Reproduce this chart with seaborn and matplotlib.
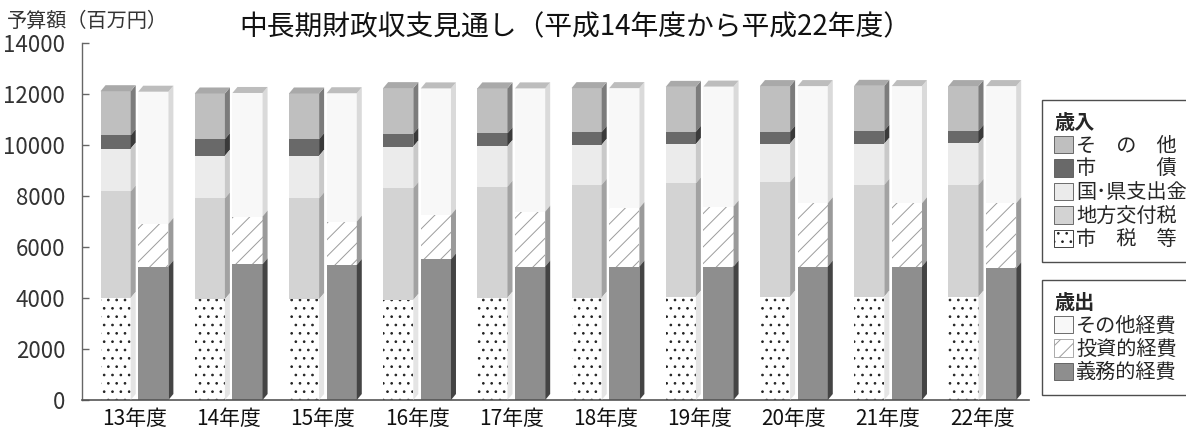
import numpy as np
import pandas as pd
import matplotlib
matplotlib.use("Agg")
import matplotlib.pyplot as plt
import seaborn as sns
from matplotlib.patches import Polygon, Patch

# ---------------- data (百万円) ----------------
years = ['13年度', '14年度', '15年度', '16年度', '17年度',
         '18年度', '19年度', '20年度', '21年度', '22年度']

# 歳入 (bottom -> top)
rev_shizei   = [4000, 3950, 3950, 3920, 4010, 4010, 4050, 4050, 4050, 4050]   # 市税等
rev_kofuzei  = [4170, 3950, 3950, 4380, 4350, 4420, 4440, 4500, 4380, 4380]   # 地方交付税
rev_shishutsu = [1680, 1670, 1670, 1630, 1590, 1570, 1540, 1500, 1610, 1630]  # 国・県支出金
rev_shisai   = [520, 650, 650, 500, 500, 500, 480, 460, 510, 480]             # 市債
rev_sonota   = [1730, 1790, 1790, 1790, 1760, 1720, 1760, 1790, 1760, 1760]   # その他

# 歳出 (bottom -> top)
exp_gimu   = [5230, 5320, 5290, 5510, 5230, 5230, 5230, 5230, 5230, 5160]     # 義務的経費
exp_toshi  = [1670, 1870, 1700, 1740, 2150, 2290, 2350, 2480, 2480, 2550]     # 投資的経費
exp_sonota = [5180, 4840, 5030, 4960, 4830, 4700, 4700, 4590, 4590, 4590]     # その他経費

yticks = [0, 2000, 4000, 6000, 8000, 10000, 12000, 14000]

# ---------------- styles ----------------
rev_layers = [  # label, values, face, side, hatch, hatchcolor
    ('市　税　等', rev_shizei, '#ffffff', '#e4e4e4', '..', '#222222'),
    ('地方交付税', rev_kofuzei, '#d3d3d3', '#a2a2a2', None, None),
    ('国･県支出金', rev_shishutsu, '#ebebeb', '#c9c9c9', None, None),
    ('市　　　債', rev_shisai, '#696969', '#3a3a3a', None, None),
    ('そ　の　他', rev_sonota, '#bfbfbf', '#7c7c7c', None, None),
]
exp_layers = [
    ('義務的経費', exp_gimu, '#8e8e8e', '#444444', None, None),
    ('投資的経費', exp_toshi, '#ffffff', '#9a9a9a', '//', '#9c9c9c'),
    ('その他経費', exp_sonota, '#f8f8f8', '#dadada', None, None),
]

sns.set_theme(style="white")
plt.rcParams['font.family'] = ['Noto Sans CJK JP', 'DejaVu Sans']
plt.rcParams['hatch.linewidth'] = 0.7

W, H = 1186, 437
fig = plt.figure(figsize=(W / 100, H / 100), dpi=100)
ax_left, ax_right, ax_bottom, ax_top = 82, 1029, 400, 42.7
ax = fig.add_axes([ax_left / W, 1 - ax_bottom / H,
                   (ax_right - ax_left) / W, (ax_bottom - ax_top) / H])

hue_order = ['歳入', '歳出']


def build_segments(layers, side_name):
    segs = []
    cum = np.zeros(len(years))
    for (lab, vals, face, side, hatch, hc) in layers:
        v = np.array(vals, dtype=float)
        segs.append(dict(label=lab, bottom=cum.copy(), top=cum + v, face=face,
                         side=side, hatch=hatch, hc=hc, side_name=side_name))
        cum = cum + v
    return segs


rev_segs = build_segments(rev_layers, '歳入')
exp_segs = build_segments(exp_layers, '歳出')

drawn = []  # (segment, patches)
# draw cumulative tops from tallest to shortest so lower layers overlay
for segs in (rev_segs, exp_segs):
    for seg in reversed(segs):
        df = pd.DataFrame({'年度': years, '金額': seg['top'],
                           '区分': seg['side_name']})
        n0 = len(ax.patches)
        sns.barplot(data=df, x='年度', y='金額', hue='区分', order=years,
                    hue_order=hue_order,
                    palette={'歳入': seg['face'], '歳出': seg['face']},
                    width=0.8, gap=0.2, dodge=True, errorbar=None,
                    linewidth=0, legend=False, ax=ax, zorder=2)
        new = ax.patches[n0:]
        for p in new:
            if seg['hatch']:
                p.set_hatch(seg['hatch'])
                p.set_edgecolor(seg['hc'])
                p.set_linewidth(0)
        drawn.append((seg, new))

# axes limits / scale
xlim = (-0.557, 9.496)
ax.set_xlim(*xlim)
ax.set_ylim(0, 14000)
px_x = (ax_right - ax_left) / (xlim[1] - xlim[0])
px_y = (ax_bottom - ax_top) / 14000
dx = 5 / px_x
dy = 6 / px_y

# 3D side faces
for seg, patches in drawn:
    for i, p in enumerate(sorted(patches, key=lambda q: q.get_x())):
        xl = p.get_x()
        xr = xl + p.get_width()
        b = seg['bottom'][i]
        t = seg['top'][i]
        side = Polygon([(xr, b), (xr + dx, b + dy), (xr + dx, t + dy), (xr, t)],
                       closed=True, facecolor=seg['side'], edgecolor='none',
                       zorder=3)
        ax.add_patch(side)
# top caps
for segs, capc in ((rev_segs, '#a9a9a9'), (exp_segs, '#bdbdbd')):
    top_seg = segs[-1]
    off = -0.2 if top_seg['side_name'] == '歳入' else 0.2
    bw = 0.32
    for i in range(len(years)):
        xl = i + off - bw / 2
        xr = i + off + bw / 2
        t = top_seg['top'][i]
        cap = Polygon([(xl, t), (xl + dx, t + dy), (xr + dx, t + dy), (xr, t)],
                      closed=True, facecolor=capc, edgecolor='none', zorder=3)
        ax.add_patch(cap)

# axes styling
ax.set_yticks(yticks)
ax.set_yticklabels([str(v) for v in yticks])
ax.set_xlabel('')
ax.set_ylabel('')
for s in ('top', 'right'):
    ax.spines[s].set_visible(False)
ax.spines['left'].set_color('#666666')
ax.spines['left'].set_linewidth(1.0)
ax.spines['bottom'].set_color('#555555')
ax.spines['bottom'].set_linewidth(1.2)
ax.tick_params(axis='y', direction='in', length=5, width=1, color='#666666',
               labelsize=16, labelcolor='#333333', pad=12, left=True)
ax.tick_params(axis='x', length=0, labelsize=15, labelcolor='#111111', pad=6)

# texts
fig.text(7 / W, 1 - 21.5 / H, '予算額（百万円）', fontsize=14.5,
         ha='left', va='center', color='#333333')
fig.text(575 / W, 1 - 27.5 / H,
         '中長期財政収支見通し（平成14年度から平成22年度）',
         fontsize=20, ha='center', va='center', color='#111111')

# legends
def handles_for(layers):
    hs = []
    for (lab, vals, face, side, hatch, hc) in reversed(layers):
        hs.append(Patch(facecolor=face, edgecolor=hc if hatch else '#555555',
                        hatch=hatch, linewidth=0.6, label=lab))
    return hs

leg_kw = dict(loc='upper left', bbox_transform=fig.transFigure,
              borderaxespad=0, frameon=True, fancybox=False,
              edgecolor='#222222', fontsize=14.5, handlelength=0.95,
              handleheight=0.95, handletextpad=0.15, labelspacing=0.12,
              borderpad=0.6, alignment='left',
              title_fontproperties={'weight': 'bold', 'size': 14.5})

leg1 = fig.legend(handles=handles_for(rev_layers), title='歳入',
                  bbox_to_anchor=(1042 / W, 1 - 100 / H), **leg_kw)
leg2 = fig.legend(handles=handles_for(exp_layers), title='歳出',
                  bbox_to_anchor=(1042 / W, 1 - 280 / H), **leg_kw)
for lg in (leg1, leg2):
    lg.get_frame().set_linewidth(1.0)

fig.savefig('out.png', dpi=100)
